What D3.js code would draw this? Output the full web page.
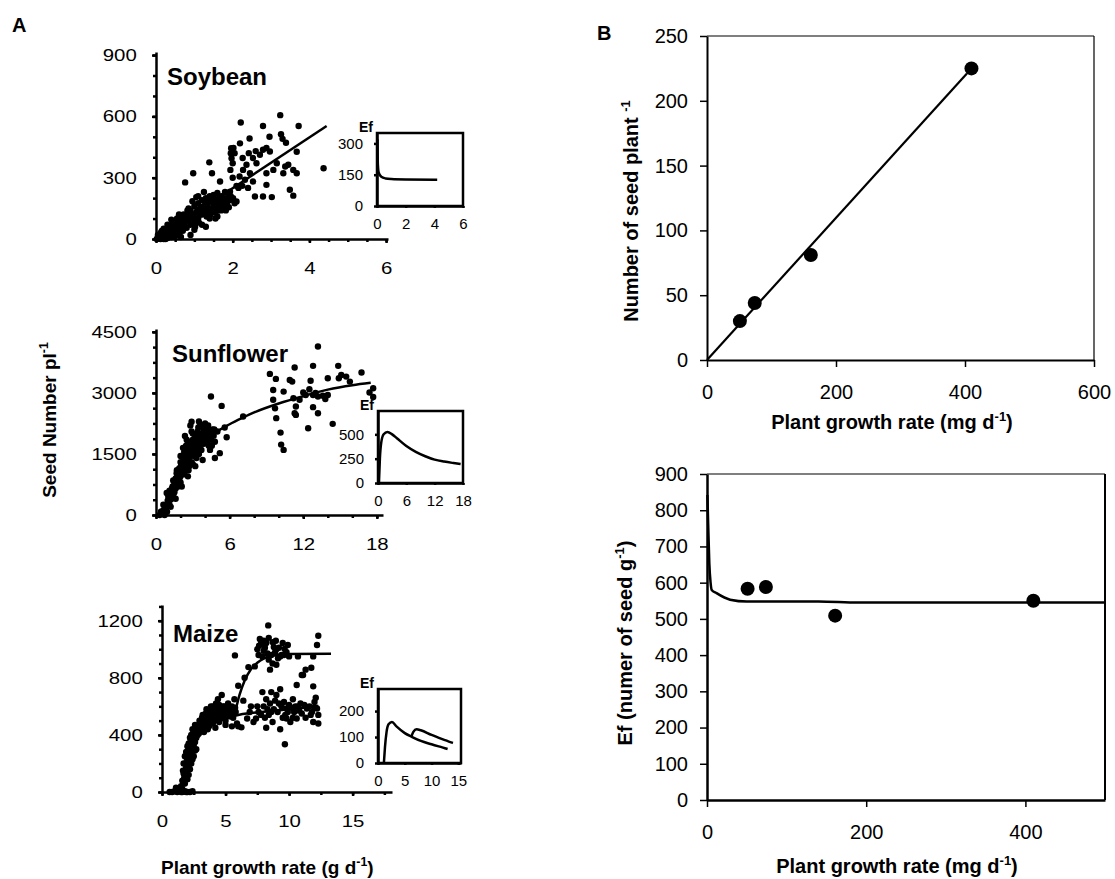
<!DOCTYPE html>
<html>
<head>
<meta charset="utf-8">
<script src="https://cdn.jsdelivr.net/npm/d3@7"></script>
<style>
  body { margin: 0; background: #fff; }
  svg text { font-family: "Liberation Sans", Arial, Helvetica, sans-serif; fill: #000; }
</style>
</head>
<body>
<svg id="chart" width="1115" height="879"></svg>
<script>
const FONT = '"Liberation Sans", Arial, Helvetica, sans-serif';
const plain = d => String(d);

// ---- Panel A: soybean ----
const soyPoints = [
  [3.24,606],[2.21,570],[3.72,553],[2.79,553],[2.44,492],[2.96,500],[3.26,513],[3.3,490],[3.39,471],[3.67,427],
  [2.19,468],[1.96,444],[1.95,420],[1.97,395],[2.0,371],[1.94,338],[2.05,420],[2.26,396],[2.53,396],[2.71,412],
  [2.79,437],[2.88,445],[2.97,428],[2.62,371],[2.36,363],[2.27,338],[2.18,306],[2.32,290],[2.45,322],[2.53,281],
  [2.88,322],[3.06,338],[3.15,371],[3.37,355],[3.45,363],[3.58,338],[3.67,322],[3.32,322],[4.37,346],[2.88,265],
  [2.58,208],[2.79,208],[3.02,205],[3.49,241],[3.58,212],[1.93,232],[2.01,200],[2.1,184],[1.84,192],[1.67,281],
  [1.39,375],[0.97,322],[0.76,277],[1.46,322],[2.1,260],[2.4,250],[2.02,445],[2.0,300],[2.6,430],[2.42,420],
  [0.05,5],[0.1,15],[0.15,8],[0.2,25],[0.12,30],[0.25,10],[0.3,40],[0.35,20],[0.4,55],[0.45,30],
  [0.5,70],[0.5,15],[0.55,45],[0.6,85],[0.6,25],[0.65,60],[0.7,100],[0.7,40],[0.75,75],[0.8,120],
  [0.8,55],[0.85,95],[0.9,140],[0.9,70],[0.95,110],[1.0,160],[1.0,85],[1.0,45],[1.05,130],[1.1,175],
  [1.1,100],[1.15,150],[1.2,190],[1.2,120],[1.2,70],[1.25,160],[1.3,200],[1.3,135],[1.35,175],[1.4,210],
  [1.4,150],[1.4,100],[1.45,185],[1.5,215],[1.5,165],[1.55,130],[1.6,195],[1.6,225],[1.65,160],[1.7,210],
  [1.7,140],[1.75,185],[1.8,230],[1.8,170],[1.85,200],[0.3,70],[0.4,95],[0.2,50],[0.6,120],[0.85,150],
  [0.95,185],[1.1,210],[0.65,10],[0.9,20],[1.3,60],[1.6,110],[1.9,155],[2.05,175],[2.15,250],[2.25,260],
  [1.25,230],[1.05,205],[0.55,100],[0.35,60],[0.15,40],[0.05,20],[0.25,0],[0.1,2],
  [0.45,80],[0.75,110],[0.9,120],[1.15,120],[1.35,150],[1.5,190],[1.55,100],[1.75,150],[0.65,90],[0.4,10],
  [0.3,5],[0.2,0],[0.55,75],[0.8,95],[1.05,100],[1.3,170],[1.45,130],[1.65,200],[1.85,175],[1.95,210],
  [0.08,10],[0.18,20],[0.28,30],[0.38,40],[0.48,55],[0.58,65],[0.68,80],[0.78,90],[0.88,105],[0.98,120],
  [1.08,140],[1.18,155],[1.28,165],[1.38,185],[1.48,200],[1.58,170],[1.68,185],[1.78,200],[1.88,225],[0.42,70],
  [0.62,50],[0.72,120],[0.82,140],[0.92,100],[1.02,60],[1.12,80],[1.22,140],[1.32,110],[1.42,120],[1.52,145],
  [1.62,140],[1.72,160],[1.82,140],[1.92,190],[0.52,90],[0.32,50],[0.22,35],[0.12,0],[0.02,0],[0.7,65]
];
const soyFit = [[0,0],[4.45,553]];
const soyEf = [[0.03,320],[0.06,200],[0.12,160],[0.3,140],[0.6,132],[1,129],[2,127],[4.2,126]];

// ---- Panel A: sunflower ----
const sunPoints = [
  [13.2,4140],[9.28,3467],[9.77,3344],[11.3,3623],[12.8,3664],[14.85,3664],[15.1,3442],[16.75,3500],[14.0,3360],[14.9,3360],
  [15.8,3278],[10.9,3320],[11.1,3278],[12.6,3300],[9.55,3073],[10.4,3032],[12.0,3008],[12.5,3090],[12.8,2950],[13.2,2910],
  [13.6,2930],[14.0,2950],[11.2,2870],[11.7,2830],[9.55,2830],[17.7,3115],[17.4,3010],[17.7,2900],[15.5,3400],[13.0,3000],
  [13.8,2850],[12.2,2950],[9.7,2620],[11.4,2665],[11.3,2500],[11.4,2460],[12.8,2650],[13.2,2500],[12.4,2130],[14.4,2240],
  [9.8,2380],[10.15,2025],[10.2,1730],[10.4,1600],[4.48,2910],[5.35,2680],[5.76,1910],[7.1,2420],[5.2,1520],[5.6,2150],
  [4.2,2100],
  [0.3,0],[0.5,50],[0.6,120],[0.7,0],[0.8,200],[0.9,80],[1.0,300],[1.0,450],[1.1,250],[1.2,550],
  [1.2,380],[1.3,650],[1.4,480],[1.5,750],[1.5,560],[1.6,900],[1.6,650],[1.7,800],[1.8,1000],[1.8,700],
  [1.9,1150],[1.9,880],[2.0,1300],[2.0,950],[2.0,800],[2.1,1100],[2.2,1450],[2.2,1200],[2.3,1000],[2.3,1350],
  [2.4,1550],[2.4,1250],[2.5,1100],[2.5,1450],[2.6,1650],[2.6,1350],[2.7,1200],[2.7,1550],[2.8,1750],[2.8,1450],
  [2.9,1300],[2.9,1650],[3.0,1850],[3.0,1550],[3.0,1250],[3.1,1750],[3.2,1950],[3.2,1600],[3.3,1400],[3.3,1800],
  [3.4,2050],[3.4,1700],[3.5,1500],[3.5,1900],[3.6,2200],[3.6,1800],[3.7,1600],[3.7,2000],[3.8,1900],[3.9,1750],
  [3.9,2100],[4.0,2000],[4.1,1850],[4.1,2150],[4.2,1950],[4.3,1700],[4.4,2050],[4.5,1850],[4.6,2100],[4.7,1950],
  [4.8,1400],[5.0,2050],[4.4,1600],[3.8,1350],[3.2,1200],[2.6,950],[2.1,700],[1.6,400],[1.2,200],[3.5,2300],
  [2.8,2200],[2.36,1943],[2.9,2294],[1.68,1025],[0.87,540],[2.5,1850],[2.2,1650],[2.9,2050],[4.0,2250],
  [1.1,600],[1.4,850],[1.7,1100],[2.0,1150],[2.3,1550],[2.6,1800],[3.1,1450],[3.4,1950],[3.7,1750],[4.2,1800],
  [4.5,2000],[4.8,1800],[3.0,2000],[2.5,1300],[2.0,1450],[1.3,450],[0.6,250],[0.4,80],
  [1.15,480],[1.35,700],[1.55,850],[1.75,950],[1.95,1050],[2.15,1250],[2.35,1150],[2.55,1500],[2.75,1650],[2.95,1500],
  [3.15,1850],[3.35,1600],[3.55,1700],[3.75,1850],[3.95,1950],[4.15,2050],[4.35,1900],[4.55,1700],[4.75,2100],[2.45,1700],
  [2.05,1250],[1.85,850],[2.65,1100],[3.05,1700],[3.45,2150],[3.85,2200],[4.25,2200],[1.45,620],[0.95,350],[0.75,150]
];
const sunFit = [[0.3,0],[0.6,150],[1,420],[1.5,760],[2,1040],[3,1480],[4,1820],[5,2060],[6,2230],[7,2380],
  [8,2520],[10,2740],[12,2920],[14,3080],[16,3190],[17.5,3250]];
const sunEf = [[0.2,0],[0.4,250],[0.7,420],[1.2,500],[2,525],[3,500],[4,460],[6,380],[8,320],[10,275],
  [12,240],[14,220],[16,205],[17.5,195]];

// ---- Panel A: maize ----
const maizePoints = [
  [0.8,0],[1.0,5],[1.2,0],[1.4,10],[1.6,0],[1.8,5],[2.0,0],[2.2,0],[2.4,5],[0.6,0],[1.1,30],[1.5,0],[1.9,0],
  [1.5,40],[1.6,80],[1.7,130],[1.8,60],[1.9,170],[1.9,110],[2.0,220],[2.0,150],[2.1,260],[2.1,190],[2.2,300],
  [2.2,230],[2.3,330],[2.3,270],[2.4,360],[2.4,300],[2.5,390],[2.5,330],[2.6,410],[2.6,350],[2.7,430],[2.7,380],
  [2.8,450],[2.8,400],[2.9,470],[3.0,430],[3.0,490],[1.7,200],[1.8,250],[2.0,320],[2.2,380],[2.4,440],[2.6,470],
  [2.1,120],[2.3,200],[2.5,250],[2.7,300],[1.8,140],[1.9,280],[2.0,90],[2.1,340],[2.2,160],[2.3,400],[2.4,230],
  [2.5,430],[2.6,290],[2.9,410],[1.6,20],[1.7,60],
  [1.85,200],[1.95,240],[2.05,280],[2.15,210],[2.25,350],[2.35,320],[2.45,380],[2.55,410],[2.65,440],[2.75,460],
  [2.85,430],[2.95,500],[1.75,100],[1.65,150],[2.0,190],[2.3,300],[2.6,380],
  [3.1,450],[3.2,500],[3.3,470],[3.4,520],[3.5,480],[3.5,580],[3.6,540],[3.7,500],[3.8,560],[3.9,520],
  [4.0,600],[4.0,480],[4.1,550],[4.2,510],[4.3,580],[4.4,650],[4.4,530],[4.5,490],[4.6,560],[4.7,680],
  [4.7,520],[4.8,600],[4.9,540],[5.0,500],[5.1,580],[5.2,620],[5.3,530],[5.4,570],[5.5,600],[5.6,520],
  [5.7,650],[5.8,560],[5.9,480],[6.0,460],[6.25,453],[5.5,460],[3.3,420],[3.6,440],[4.2,450],[5.0,470],
  [3.9,590],[4.5,610],[3.2,540],[3.7,460],[4.1,500],[4.6,520],[4.9,600],[5.3,580],[5.6,550],[3.4,480],
  [3.05,470],[3.15,520],[3.25,490],[3.45,550],[3.55,510],[3.75,540],[3.85,600],[3.95,560],[4.15,580],[4.25,620],
  [4.35,560],[4.55,590],[4.65,530],[4.85,570],[5.05,540],[5.25,560],[5.45,530],[5.75,590],
  [8.36,1167],[12.3,1095],[12.2,1030],[5.74,957],[7.7,1072],[7.64,1025],[8.2,1044],[8.96,1060],[8.8,1016],[9.5,1044],
  [9.65,1002],[8.6,960],[9.13,937],[9.4,960],[7.9,950],[8.4,927],[9.0,891],[8.5,857],[10.7,950],[11.0,820],
  [11.3,857],[11.9,950],[11.75,870],[10.6,750],[11.1,820],[11.9,740],[6.8,875],[6.0,744],[7.5,1000],[8.0,990],
  [9.2,1010],[10.0,950],[9.8,980],[8.7,900],[7.3,880],[6.5,800],[8.1,1010],[8.9,980],[9.9,1030],[7.8,1040],
  [8.4,1080],[9.3,950],[8.0,1060],[8.7,1050],[9.0,1000],[9.6,960],[8.3,970],[7.6,960],
  [7.9,700],[8.2,650],[9.0,680],[9.6,630],[9.8,585],[10.3,650],[10.8,570],[11.4,585],[12.0,630],[12.2,585],
  [11.9,490],[12.3,540],[8.4,540],[8.7,490],[8.2,450],[7.4,515],[7.2,490],[6.7,515],[9.8,515],[10.1,490],
  [10.6,515],[11.0,550],[9.3,440],[9.67,335],[7.6,560],[8.0,600],[8.5,620],[8.8,580],[9.1,560],[9.4,600],
  [9.7,540],[10.0,610],[10.4,560],[10.9,620],[11.3,520],[11.6,600],[12.1,660],[12.3,480],[8.6,700],[9.3,720],
  [10.2,590],[7.0,600],[6.4,640],[6.9,560],[8.3,580],[8.9,640],[9.5,520],[7.8,540],[10.5,600],[11.8,560],
  [8.1,520],[8.6,560],[9.2,620],[9.9,560],[10.7,600],[11.2,610],[11.7,540],[7.5,600],[12.0,590],[10.3,520]
];
const maizeFitLow = [[1.4,0],[1.7,120],[2,230],[2.5,350],[3,420],[3.5,460],[4,485],[5,515],[6,540],[7,553],
  [8,562],[10,580],[12.3,605]];
const maizeFitHigh = [[5.6,525],[5.8,580],[6.1,680],[6.5,780],[7,860],[7.5,905],[8,935],[9,958],[10,966],[13.3,968]];
const maizeEf1 = [[1.1,0],[1.3,60],[1.6,120],[2,150],[2.6,158],[3.5,140],[5,115],[6.4,100],[8,85],[10,72],[12,60],[13,54]];
const maizeEf2 = [[6.2,100],[6.6,120],[7.2,130],[8,126],[10,108],[12,92],[14,77]];

// ---- Panel B ----
const bGrowth = [51, 74, 161, 410];
const bSeeds = [30, 44, 81, 225];
const bFit = [[0,0],[403,221]];
const bEf = [583, 588, 509, 550];
const bEfCurve = [[0.5,842],[1.5,760],[2.9,654],[4.5,600],[5.9,580],[12,571],[29,553],[50,548],[140,548],[190,545],[500,545]];

const svg = d3.select("#chart");

function rich(sel, parts, size) {
  parts.forEach(([t, sup], i) => {
    const prevSup = i > 0 && parts[i - 1][1];
    sel.append("tspan").text(t)
      .attr("font-size", sup ? size * 0.65 : size)
      .attr("dy", sup ? -size * 0.4 : (prevSup ? size * 0.4 : 0));
  });
}

function styleAxis(a, sw, fs, sx) {
  a.select(".domain").attr("stroke-width", sw);
  a.selectAll(".tick line").attr("stroke-width", sw);
  a.selectAll("text").attr("font-size", fs).attr("font-family", FONT);
  if (sx) a.selectAll("text").attr("transform", `scale(${sx},1)`);
}

function drawA(o) {
  const x = d3.scaleLinear().domain(o.xDom).range([o.left, o.left + o.w]);
  const y = d3.scaleLinear().domain(o.yDom).range([o.bottom, o.bottom - o.h]);
  const g = svg.append("g");

  // minor ticks
  const mx = g.append("g").attr("transform", `translate(0,${o.bottom})`)
    .call(d3.axisBottom(x).tickValues(o.xMinor).tickSize(3).tickFormat(""));
  mx.select(".domain").remove();
  mx.selectAll("line").attr("stroke-width", 2.5);
  const my = g.append("g").attr("transform", `translate(${o.left},0)`)
    .call(d3.axisLeft(y).tickValues(o.yMinor).tickSize(3).tickFormat(""));
  my.select(".domain").remove();
  my.selectAll("line").attr("stroke-width", 2.5);

  const xa = g.append("g").attr("transform", `translate(0,${o.bottom})`)
    .call(d3.axisBottom(x).tickValues(o.xTicks).tickFormat(plain).tickSize(4).tickPadding(19).tickSizeOuter(0));
  const ya = g.append("g").attr("transform", `translate(${o.left},0)`)
    .call(d3.axisLeft(y).tickValues(o.yTicks).tickFormat(plain).tickSize(4).tickPadding(12).tickSizeOuter(0));
  styleAxis(xa, 2.5, 17, 1.2);
  styleAxis(ya, 2.5, 17, 1.2);

  g.append("g").selectAll("circle").data(o.points).join("circle")
    .attr("cx", d => x(d[0])).attr("cy", d => y(d[1])).attr("r", 3.2).attr("fill", "#000");

  const line = d3.line().x(d => x(d[0])).y(d => y(d[1])).curve(d3.curveMonotoneX);
  o.fits.forEach(f => g.append("path").attr("d", line(f))
    .attr("fill", "none").attr("stroke", "#000").attr("stroke-width", 2.5));

  g.append("text").attr("x", o.nameX).attr("y", o.nameY)
    .attr("font-size", 24).attr("font-weight", "bold").text(o.name);
}

function drawInset(o) {
  const x = d3.scaleLinear().domain(o.xDom).range([o.left, o.right]);
  const y = d3.scaleLinear().domain(o.yDom).range([o.bottom, o.top]);
  const g = svg.append("g");
  g.append("rect").attr("x", o.left).attr("y", o.top)
    .attr("width", o.right - o.left).attr("height", o.bottom - o.top)
    .attr("fill", "#fff").attr("stroke", "#000").attr("stroke-width", 2.5);
  const xa = g.append("g").attr("transform", `translate(0,${o.bottom})`)
    .call(d3.axisBottom(x).tickValues(o.xTicks).tickFormat(plain).tickSize(2).tickPadding(10).tickSizeOuter(0));
  const ya = g.append("g").attr("transform", `translate(${o.left},0)`)
    .call(d3.axisLeft(y).tickValues(o.yTicks).tickFormat(plain).tickSize(3).tickPadding(11).tickSizeOuter(0));
  styleAxis(xa, 2.5, 15);
  styleAxis(ya, 2.5, 15);
  const line = d3.line().x(d => x(d[0])).y(d => y(d[1])).curve(d3.curveMonotoneX);
  o.curves.forEach(c => g.append("path").attr("d", line(c))
    .attr("fill", "none").attr("stroke", "#000").attr("stroke-width", 2.5));
  g.append("text").attr("x", o.left - 4).attr("y", o.top - 1).attr("text-anchor", "end")
    .attr("font-size", 14).attr("font-weight", "bold").text("Ef");
}

drawA({
  left: 156, bottom: 239, w: 232, h: 187, xDom: [0, 6.05], yDom: [0, 915],
  xTicks: [0, 2, 4, 6], yTicks: [0, 300, 600, 900],
  xMinor: d3.range(0, 6.01, 0.5), yMinor: d3.range(0, 901, 100),
  points: soyPoints, fits: [soyFit], name: "Soybean", nameX: 167, nameY: 85
});
drawInset({
  left: 377, right: 463, top: 133, bottom: 206, xDom: [0, 6], yDom: [0, 350],
  xTicks: [0, 2, 4, 6], yTicks: [0, 150, 300], curves: [soyEf]
});

drawA({
  left: 156, bottom: 515, w: 227, h: 186, xDom: [0, 18.5], yDom: [0, 4570],
  xTicks: [0, 6, 12, 18], yTicks: [0, 1500, 3000, 4500],
  xMinor: d3.range(0, 18.1, 2), yMinor: d3.range(0, 4501, 375),
  points: sunPoints, fits: [sunFit], name: "Sunflower", nameX: 172, nameY: 362
});
drawInset({
  left: 378, right: 463, top: 411, bottom: 483, xDom: [0, 18], yDom: [0, 740],
  xTicks: [0, 6, 12, 18], yTicks: [0, 250, 500], curves: [sunEf]
});

drawA({
  left: 162, bottom: 792, w: 230, h: 187, xDom: [0, 18.1], yDom: [0, 1310],
  xTicks: [0, 5, 10, 15], yTicks: [0, 400, 800, 1200],
  xMinor: d3.range(0, 18.1, 2.5), yMinor: d3.range(0, 1301, 100),
  points: maizePoints, fits: [maizeFitLow, maizeFitHigh], name: "Maize", nameX: 173, nameY: 642
});
drawInset({
  left: 378, right: 461, top: 689, bottom: 763, xDom: [0, 15.5], yDom: [0, 285],
  xTicks: [0, 5, 10, 15], yTicks: [0, 100, 200], curves: [maizeEf1, maizeEf2]
});

// Panel A titles
svg.append("text").attr("x", 12).attr("y", 32).attr("font-size", 20).attr("font-weight", "bold").text("A");
rich(svg.append("text").attr("transform", "translate(56,420) rotate(-90)")
  .attr("text-anchor", "middle").attr("font-weight", "bold"),
  [["Seed Number  pl", false], ["-1", true]], 19);
rich(svg.append("text").attr("x", 161).attr("y", 874).attr("font-weight", "bold"),
  [["Plant growth  rate  (g  d", false], ["-1", true], [")", false]], 19);

// ---- Panel B ----
function drawB(o) {
  const x = d3.scaleLinear().domain(o.xDom).range([o.left, o.right]);
  const y = d3.scaleLinear().domain(o.yDom).range([o.bottom, o.top]);
  const g = svg.append("g");
  g.append("line").attr("x1", o.left).attr("x2", o.right).attr("y1", o.top).attr("y2", o.top)
    .attr("stroke", "#000").attr("stroke-width", 1.2);
  g.append("line").attr("x1", o.right).attr("x2", o.right).attr("y1", o.top).attr("y2", o.bottom)
    .attr("stroke", "#000").attr("stroke-width", o.rightW);
  const xa = g.append("g").attr("transform", `translate(0,${o.bottom})`)
    .call(d3.axisBottom(x).tickValues(o.xTicks).tickFormat(plain).tickSize(7).tickPadding(18).tickSizeOuter(0));
  const ya = g.append("g").attr("transform", `translate(${o.left},0)`)
    .call(d3.axisLeft(y).tickValues(o.yTicks).tickFormat(plain).tickSize(7).tickPadding(12).tickSizeOuter(0));
  styleAxis(xa, o.axisW, 20);
  styleAxis(ya, o.axisW, 20);
  xa.selectAll(".tick line").attr("stroke-width", 1.5);
  ya.selectAll(".tick line").attr("stroke-width", 1.5);

  const line = d3.line().x(d => x(d[0])).y(d => y(d[1])).curve(d3.curveMonotoneX);
  g.append("path").attr("d", line(o.curve))
    .attr("fill", "none").attr("stroke", "#000").attr("stroke-width", o.lineW);
  g.append("g").selectAll("circle").data(o.xs).join("circle")
    .attr("cx", d => x(d)).attr("cy", (d, i) => y(o.ys[i])).attr("r", 7).attr("fill", "#000");

  rich(g.append("text").attr("x", o.titleX).attr("y", o.titleY).attr("text-anchor", "middle")
    .attr("font-weight", "bold"), [["Plant growth rate (mg d", false], ["-1", true], [")", false]], 20);
  rich(g.append("text").attr("transform", `translate(${o.yTitleX},${o.yTitleY}) rotate(-90)`)
    .attr("text-anchor", "middle").attr("font-weight", "bold"), o.yTitle, 20);
}

drawB({
  left: 707, right: 1094, top: 36, bottom: 360, xDom: [0, 600], yDom: [0, 250],
  xTicks: [0, 200, 400, 600], yTicks: [0, 50, 100, 150, 200, 250],
  axisW: 2, rightW: 1.2, lineW: 2.2, curve: bFit, xs: bGrowth, ys: bSeeds,
  titleX: 892, titleY: 429, yTitleX: 638, yTitleY: 211,
  yTitle: [["Number of seed  plant ", false], ["-1", true]]
});
drawB({
  left: 707, right: 1105, top: 474, bottom: 800, xDom: [0, 500], yDom: [0, 900],
  xTicks: [0, 200, 400], yTicks: d3.range(0, 901, 100),
  axisW: 2.5, rightW: 2, lineW: 2.5, curve: bEfCurve, xs: bGrowth, ys: bEf,
  titleX: 897, titleY: 873, yTitleX: 632, yTitleY: 643,
  yTitle: [["Ef (numer of seed g", false], ["-1", true], [")", false]]
});

svg.append("text").attr("x", 597).attr("y", 40).attr("font-size", 20).attr("font-weight", "bold").text("B");
</script>
</body>
</html>
